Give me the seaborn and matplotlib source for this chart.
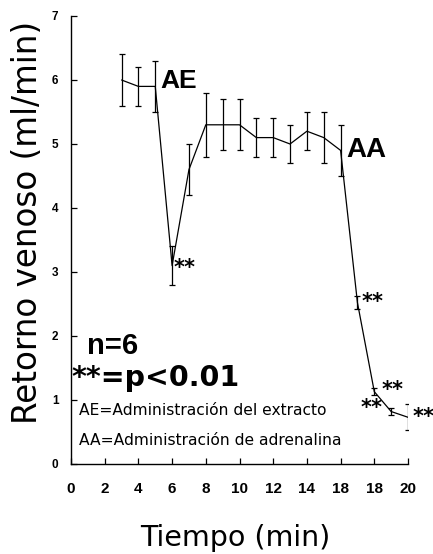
import matplotlib
matplotlib.use('Agg')
import matplotlib.pyplot as plt
import seaborn as sns

# datos
tiempo = [3, 4, 5, 6, 7, 8, 9, 10, 11, 12, 13, 14, 15, 16, 17, 18, 19, 20]
retorno = [6.0, 5.9, 5.9, 3.1, 4.6, 5.3, 5.3, 5.3, 5.1, 5.1, 5.0, 5.2, 5.1, 4.9,
           2.52, 1.13, 0.82, 0.73]
error = [0.4, 0.3, 0.4, 0.3, 0.4, 0.5, 0.4, 0.4, 0.3, 0.3, 0.3, 0.3, 0.4, 0.4,
         0.1, 0.05, 0.05, 0.2]
x_ticks = [0, 2, 4, 6, 8, 10, 12, 14, 16, 18, 20]
x_labels = ['0', '2', '4', '6', '8', '10', '12', '14', '18', '18', '20']
y_ticks = [0, 1, 2, 3, 4, 5, 6, 7]
# puntos con p<0.01 (indices en tiempo)
significativos = [3, 14, 15, 16, 17]

sns.set_theme(style='ticks')
plt.rcParams['font.family'] = ['Liberation Sans', 'DejaVu Sans']
plt.rcParams['text.color'] = 'black'
plt.rcParams['axes.labelcolor'] = 'black'
plt.rcParams['xtick.color'] = 'black'
plt.rcParams['ytick.color'] = 'black'

fig = plt.figure(figsize=(4.33, 5.54), dpi=100)
ax = fig.add_axes([71 / 433, 1 - 464 / 554, 337 / 433, 448 / 554])

sns.lineplot(x=tiempo, y=retorno, color='black', linewidth=0.9, ax=ax)
ax.errorbar(tiempo, retorno, yerr=error, fmt='none', ecolor='black',
            elinewidth=0.9, capsize=2.5, capthick=0.9)

ax.set_xlim(0, 20)
ax.set_ylim(0, 7)
ax.set_xticks(x_ticks)
ax.set_xticklabels(x_labels, fontsize=11, fontweight='bold')
ax.set_yticks(y_ticks)
ax.set_yticklabels([str(v) for v in y_ticks], fontsize=8.5, fontweight='bold')
ax.tick_params(axis='x', direction='in', length=4, width=0.9, pad=13)
ax.tick_params(axis='y', direction='in', length=4, width=0.9, pad=9)
sns.despine(ax=ax)
for s in ['left', 'bottom']:
    ax.spines[s].set_linewidth(1.0)
    ax.spines[s].set_color('black')

ax.set_ylabel('Retorno venoso (ml/min)', fontsize=23.5, family='DejaVu Sans', va='center')
ax.yaxis.set_label_coords(-0.13, 0.54)
ax.set_xlabel('Tiempo (min)', fontsize=20.5, family='DejaVu Sans', va='center')
ax.xaxis.set_label_coords(0.488, -0.165)

# marcas de los tratamientos
ax.annotate('AE', xy=(tiempo[2], retorno[2]), xytext=(4, 4), textcoords='offset points',
            fontsize=19, fontweight='bold', va='center', ha='left')
ax.annotate('AA', xy=(tiempo[13], retorno[13]), xytext=(4, 0), textcoords='offset points',
            fontsize=20, fontweight='bold', va='center', ha='left')

# asteriscos de significacion
desplaz = {3: (1, 3, 'left'), 14: (3, 5, 'left'), 15: (5, 6, 'left'),
           16: (-6, 7, 'right'), 17: (3, 5, 'left')}
fs_ast = 15
for i in significativos:
    dx, dy, ha = desplaz[i]
    ax.annotate('**', xy=(tiempo[i], retorno[i]), xytext=(dx, dy - 0.6 * fs_ast),
                textcoords='offset points', fontsize=fs_ast, fontweight='bold',
                family='DejaVu Sans', va='baseline', ha=ha)

ax.text(0.95, 1.85, 'n=6', fontsize=21, fontweight='bold', va='center', ha='left')
ax.text(0.0, 1.35, '**=p<0.01', fontsize=20.5, fontweight='bold', family='DejaVu Sans',
        va='center', ha='left', clip_on=False)
ax.text(0.48, 0.84, 'AE=Administración del extracto', fontsize=11.2,
        family='DejaVu Sans', va='center', ha='left')
ax.text(0.48, 0.37, 'AA=Administración de adrenalina', fontsize=11.2,
        family='DejaVu Sans', va='center', ha='left')

fig.savefig('out.png', dpi=100)
plt.close(fig)
